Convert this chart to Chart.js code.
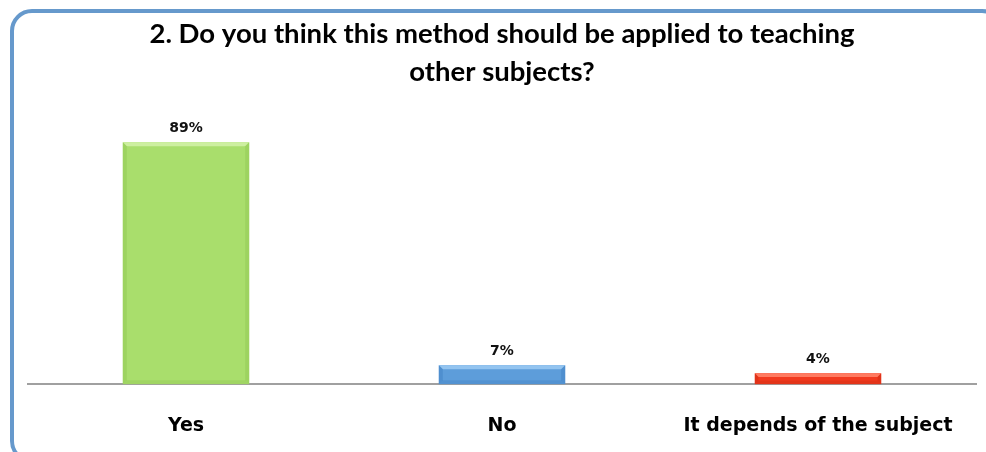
<!DOCTYPE html>
<html>
<head>
<meta charset="utf-8">
<script src="https://cdn.jsdelivr.net/npm/chart.js@4/dist/chart.umd.min.js"></script>
<style>
  html, body { margin: 0; padding: 0; background: #ffffff; }
  #wrap { width: 986px; height: 452px; position: relative; }
</style>
</head>
<body>
<div id="wrap"><canvas id="c" width="986" height="452"></canvas></div>
<script>
const titleLines = ["2. Do you think this method should be applied to teaching", "other subjects?"];
const categories = ["Yes", "No", "It depends of the subject"];
const percentages = [89, 7, 4];
const barColors = ["#A9DE6C", "#5D9DDA", "#F2391E"];
const barLightColors = ["#CDEFA0", "#93C4F0", "#FF7A60"];
const barDarkColors = ["#8FC653", "#3F7EC0", "#C92A12"];

const frame = {
  id: 'frame',
  beforeDraw(chart) {
    const ctx = chart.ctx;
    ctx.save();
    ctx.fillStyle = '#ffffff';
    ctx.fillRect(0, 0, chart.width, chart.height);
    ctx.strokeStyle = '#6699CC';
    ctx.lineWidth = 4;
    ctx.beginPath();
    ctx.roundRect(12, 11, 990, 450, 20);
    ctx.stroke();
    ctx.restore();
  }
};

const bevel = {
  id: 'bevel',
  afterDatasetsDraw(chart) {
    const ctx = chart.ctx;
    const meta = chart.getDatasetMeta(0);
    ctx.save();
    meta.data.forEach((bar, i) => {
      const w = bar.width;
      const l = bar.x - w / 2, r = bar.x + w / 2;
      const t = bar.y, btm = bar.base;
      const h = btm - t;
      const b = Math.min(4, h / 3);
      ctx.fillStyle = barLightColors[i];
      ctx.beginPath();
      ctx.moveTo(l, t); ctx.lineTo(r, t); ctx.lineTo(r - b, t + b); ctx.lineTo(l + b, t + b);
      ctx.closePath(); ctx.fill();
      ctx.fillStyle = barDarkColors[i];
      ctx.globalAlpha = 0.45;
      ctx.beginPath();
      ctx.moveTo(l, t); ctx.lineTo(l + b, t + b); ctx.lineTo(l + b, btm - b); ctx.lineTo(l, btm);
      ctx.closePath(); ctx.fill();
      ctx.beginPath();
      ctx.moveTo(r, t); ctx.lineTo(r - b, t + b); ctx.lineTo(r - b, btm - b); ctx.lineTo(r, btm);
      ctx.closePath(); ctx.fill();
      ctx.globalAlpha = 0.35;
      ctx.beginPath();
      ctx.moveTo(l, btm); ctx.lineTo(l + b, btm - b); ctx.lineTo(r - b, btm - b); ctx.lineTo(r, btm);
      ctx.closePath(); ctx.fill();
      ctx.globalAlpha = 1;
    });
    ctx.restore();
  }
};

const valueLabels = {
  id: 'valueLabels',
  afterDatasetsDraw(chart) {
    const ctx = chart.ctx;
    const meta = chart.getDatasetMeta(0);
    ctx.save();
    ctx.font = 'bold 14px "DejaVu Sans"';
    ctx.fillStyle = '#111111';
    ctx.textAlign = 'center';
    ctx.textBaseline = 'middle';
    meta.data.forEach((bar, i) => {
      ctx.fillText(percentages[i] + '%', bar.x, bar.y - 14);
    });
    ctx.restore();
  }
};

new Chart(document.getElementById('c'), {
  type: 'bar',
  data: {
    labels: categories,
    datasets: [{
      data: percentages,
      backgroundColor: barColors,
      borderWidth: 0,
      categoryPercentage: 1,
      barPercentage: 0.4
    }]
  },
  options: {
    responsive: false,
    animation: false,
    layout: { padding: { left: 28, right: 10, top: 0, bottom: -15 } },
    plugins: {
      legend: { display: false },
      tooltip: { enabled: false },
      title: {
        display: true,
        text: titleLines,
        color: '#000000',
        font: { family: 'Lato', weight: 'bold', size: 27.5, lineHeight: 1.35 },
        padding: { top: 16, bottom: 22 }
      }
    },
    scales: {
      x: {
        grid: { display: false, drawTicks: false },
        border: { display: true, color: '#A0A0A0', width: 2 },
        ticks: {
          color: '#000000',
          padding: 30,
          maxRotation: 0,
          minRotation: 0,
          font: { family: '"DejaVu Sans"', weight: 'bold', size: 19 }
        }
      },
      y: {
        display: false,
        min: 0,
        max: 100
      }
    }
  },
  plugins: [frame, bevel, valueLabels]
});
</script>
</body>
</html>
